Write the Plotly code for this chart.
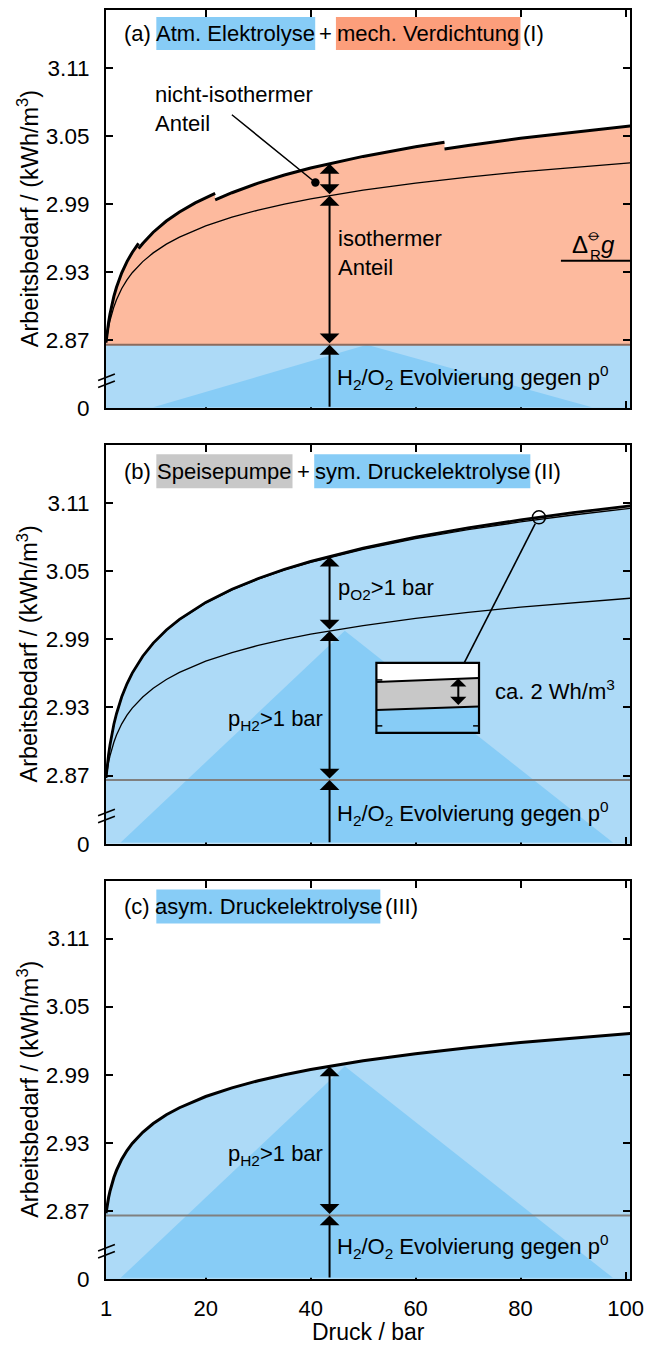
import numpy as np
import plotly.graph_objects as go

# ------------------------------------------------------------------ data
# pressure grid (bar) and specific work demand (kWh/m^3)
P = [1, 1.1, 1.25, 1.5, 1.75, 2, 2.5, 3, 4, 5, 6, 8, 10, 12.5, 15, 20, 25, 30,
     35, 40, 50, 60, 70, 80, 90, 101]
# isothermal curve (H2 only)  -> panels (a), (b) thin line, (c) thick line
W_ISO = [2.8680, 2.8713, 2.8757, 2.8819, 2.8872, 2.8918, 2.8994, 2.9057, 2.9156,
         2.9232, 2.9295, 2.9393, 2.9470, 2.9547, 2.9609, 2.9708, 2.9784, 2.9847,
         2.9900, 2.9946, 3.0022, 3.0085, 3.0138, 3.0184, 3.0224, 3.0263]
# symmetric pressure electrolysis (H2 + O2 pressurised)
W_SYM = [2.8680, 2.8729, 2.8795, 2.8889, 2.8968, 2.9037, 2.9152, 2.9245, 2.9393,
         2.9508, 2.9602, 2.9750, 2.9865, 2.9980, 3.0074, 3.0222, 3.0337, 3.0430,
         3.0510, 3.0578, 3.0693, 3.0787, 3.0867, 3.0935, 3.0996, 3.1055]
# symmetric pressure electrolysis + feed pump
W_SYM_PUMP = [2.8680, 2.8729, 2.8795, 2.8889, 2.8968, 2.9037, 2.9152, 2.9245, 2.9394,
              2.9509, 2.9603, 2.9752, 2.9867, 2.9983, 3.0077, 3.0226, 3.0342, 3.0436,
              3.0518, 3.0587, 3.0704, 3.0800, 3.0882, 3.0953, 3.1016, 3.1077]
# mechanical multi-stage compression (non-isothermal), one list per stage
P_STAGE1 = [1, 1.1, 1.25, 1.5, 1.75, 2, 2.5, 3, 4, 5, 6, 7.2]
W_STAGE1 = [2.8680, 2.8723, 2.8779, 2.8860, 2.8928, 2.8987, 2.9086, 2.9167, 2.9295,
            2.9393, 2.9474, 2.9554]
P_STAGE2 = [7.2, 8, 10, 12.5, 15, 18, 21.8]
W_STAGE2 = [2.9507, 2.9553, 2.9652, 2.9751, 2.9830, 2.9911, 2.9994]
P_STAGE3 = [21.8, 25, 30, 35, 40, 50, 60, 65.5]
W_STAGE3 = [2.9937, 3.0000, 3.0085, 3.0156, 3.0218, 3.0320, 3.0405, 3.0445]
P_STAGE4 = [65.5, 70, 80, 90, 101]
W_STAGE4 = [3.0385, 3.0417, 3.0480, 3.0535, 3.0589]

W_ATM = 2.866        # H2/O2 evolution against p0
W_DRG0 = 2.94        # Delta_R g0 mark
P_MARK = 43.6        # pressure of the explanatory arrows
P_NONISO_DOT = 40.9  # dot for "nicht-isothermer Anteil"
W_NONISO_DOT = 3.009
P_ZOOM = 83.5        # circle marking the zoomed inset

X_TICKS = [1, 20, 40, 60, 80, 100]
Y_TICKVALS = [2.81, 2.87, 2.93, 2.99, 3.05, 3.11]
Y_TICKTEXT = ["0", "2.87", "2.93", "2.99", "3.05", "3.11"]
X_RANGE = [1, 100.85]
Y_RANGE = [2.81, 3.161]

# ------------------------------------------------------------------ layout helpers
W, H = 652, 1349
ML, MR, MT, MB = 106, 15, 8, 70
PW, PH = W - ML - MR, H - MT - MB
FONT = "Liberation Sans, Arial, Helvetica, sans-serif"

LB = "#ADDAF7"
DB = "#87CCF6"
OR_FILL = "#FDBA9E"
OR_BOX = "#FC9E7B"
GR_BOX = "#C8C8C8"


def px(x):
    return (x - ML) / PW


def py(y):
    return (H - MB - y) / PH


PANELS = [(8, 407), (444, 843), (880, 1279)]

fig = go.Figure()

# ------------------------------------------------------------------ panel (a)
fig.add_trace(go.Scatter(x=[P[0], P[-1]], y=[W_ATM, W_ATM], fill="tozeroy",
                         fillcolor=LB, mode="none", xaxis="x", yaxis="y",
                         hoverinfo="skip"))
na_p = P_STAGE1 + P_STAGE2 + P_STAGE3 + P_STAGE4
na_w = W_STAGE1 + W_STAGE2 + W_STAGE3 + W_STAGE4
fig.add_trace(go.Scatter(x=na_p + [na_p[-1], na_p[0]], y=na_w + [W_ATM, W_ATM],
                         fill="toself", fillcolor=OR_FILL, mode="none",
                         xaxis="x", yaxis="y", hoverinfo="skip"))
fig.add_trace(go.Scatter(x=P, y=W_ISO, mode="lines",
                         line=dict(color="black", width=1.3), xaxis="x", yaxis="y"))
for ps, ws in [(P_STAGE1, W_STAGE1), (P_STAGE2, W_STAGE2),
               (P_STAGE3, W_STAGE3), (P_STAGE4, W_STAGE4)]:
    fig.add_trace(go.Scatter(x=ps, y=ws, mode="lines",
                             line=dict(color="black", width=3), xaxis="x", yaxis="y"))

# ------------------------------------------------------------------ panel (b)
fig.add_trace(go.Scatter(x=P, y=W_SYM, fill="tozeroy", fillcolor=LB, mode="none",
                         xaxis="x2", yaxis="y2", hoverinfo="skip"))
fig.add_trace(go.Scatter(x=P, y=W_SYM_PUMP, fill="tonexty", fillcolor=GR_BOX,
                         mode="none", xaxis="x2", yaxis="y2", hoverinfo="skip"))
fig.add_trace(go.Scatter(x=P, y=W_ISO, mode="lines",
                         line=dict(color="black", width=1.3), xaxis="x2", yaxis="y2"))
fig.add_trace(go.Scatter(x=P, y=W_SYM, mode="lines",
                         line=dict(color="black", width=1.3), xaxis="x2", yaxis="y2"))
fig.add_trace(go.Scatter(x=P, y=W_SYM_PUMP, mode="lines",
                         line=dict(color="black", width=2.8), xaxis="x2", yaxis="y2"))

# ------------------------------------------------------------------ panel (c)
fig.add_trace(go.Scatter(x=P, y=W_ISO, fill="tozeroy", fillcolor=LB, mode="none",
                         xaxis="x3", yaxis="y3", hoverinfo="skip"))
fig.add_trace(go.Scatter(x=P, y=W_ISO, mode="lines",
                         line=dict(color="black", width=3), xaxis="x3", yaxis="y3"))

# ------------------------------------------------------------------ axes
def xaxis(anchor, labels):
    return dict(range=X_RANGE, domain=[0, 1], anchor=anchor, tickvals=X_TICKS,
                ticktext=[str(v) for v in X_TICKS], ticks="inside", ticklen=7,
                tickwidth=2, tickcolor="black", showline=True, linewidth=2,
                linecolor="black", mirror="ticks", showgrid=False, zeroline=False,
                showticklabels=labels, ticklabelstandoff=9,
                tickfont=dict(family=FONT, size=22, color="black"))


def yaxis(anchor, top, bottom):
    return dict(range=Y_RANGE, domain=[py(bottom), py(top)], anchor=anchor,
                tickvals=Y_TICKVALS, ticktext=Y_TICKTEXT, ticks="inside", ticklen=7,
                tickwidth=2, tickcolor="black", showline=True, linewidth=2,
                linecolor="black", mirror="ticks", showgrid=False, zeroline=False,
                ticklabelstandoff=10,
                tickfont=dict(family=FONT, size=22.5, color="black"))


shapes = []
annotations = []


def text(t, x, y, xanchor="left", size=22, **kw):
    d = dict(text=t, x=px(x), y=py(y), xref="paper", yref="paper", xanchor=xanchor,
             yanchor="middle", showarrow=False,
             font=dict(family=FONT, size=size, color="black"))
    d.update(kw)
    return d


def arrow(xr, yr, x, y, ax, ay, both=True, size=1.65):
    d = dict(x=x, y=y, ax=ax, ay=ay, xref=xr, yref=yr, axref=xr, ayref=yr, text="",
             showarrow=True, arrowhead=1, arrowsize=size, arrowwidth=2,
             arrowcolor="black", standoff=0)
    if both:
        d.update(arrowside="end+start", startarrowhead=1, startarrowsize=size,
                 startstandoff=0)
    return d


def rect(x0, y0, x1, y1, color):
    return dict(type="rect", xref="paper", yref="paper", x0=px(x0), x1=px(x1),
                y0=py(y0), y1=py(y1), fillcolor=color, line=dict(width=0),
                layer="above")


def pline(x0, y0, x1, y1, width=2, color="black"):
    return dict(type="line", xref="paper", yref="paper", x0=px(x0), x1=px(x1),
                y0=py(y0), y1=py(y1), line=dict(color=color, width=width),
                layer="above")


def tri(xr, yr, pl, apex_p, apex_w, pr):
    b = Y_RANGE[0] + 0.001
    return dict(type="path", xref=xr, yref=yr, layer="above", fillcolor=DB,
                line=dict(width=0),
                path=f"M{pl},{b} L{apex_p},{apex_w} L{pr},{b} Z")


iso_mark = float(np.interp(P_MARK, P, W_ISO))
non_mark = float(np.interp(P_MARK, P_STAGE3, W_STAGE3))
sym_mark = float(np.interp(P_MARK, P, W_SYM_PUMP))
iso_apex = float(np.interp(46.5, P, W_ISO)) - 0.002

# decorative darker triangles + baselines
shapes.append(tri("x", "y", 10, 50.7, W_ATM, 93.6))
shapes.append(tri("x2", "y2", 3.8, 46.5, iso_apex, 97.6))
shapes.append(tri("x3", "y3", 3.8, 46.5, iso_apex, 97.6))
for xr, yr, col in [("x", "y", "#8C6B5E"), ("x2", "y2", "#808080"),
                    ("x3", "y3", "#808080")]:
    shapes.append(dict(type="line", xref=xr, yref=yr, x0=X_RANGE[0], x1=X_RANGE[1],
                       y0=W_ATM, y1=W_ATM, line=dict(color=col, width=2),
                       layer="above"))

# axis break marks
for top, bottom in PANELS:
    shapes.append(pline(98, bottom - 28, 115, bottom - 34.5, width=1.6))
    shapes.append(pline(98, bottom - 21, 115, bottom - 27.5, width=1.6))

# title highlight boxes
shapes += [rect(157, 15, 318, 48, DB), rect(339, 15, 526, 48, OR_BOX),
           rect(157, 453, 295, 487, GR_BOX), rect(317, 453, 536, 487, DB),
           rect(157, 889, 384, 923, DB)]

# Delta_R g0 line
shapes.append(dict(type="line", xref="paper", yref="y", x0=px(567), x1=1,
                   y0=W_DRG0, y1=W_DRG0, line=dict(color="black", width=2),
                   layer="above"))

# inset in panel (b)
shapes += [
    rect(380, 662, 484, 732, DB),
    dict(type="path", xref="paper", yref="paper", layer="above", fillcolor="white",
         line=dict(width=0),
         path=f"M{px(380)},{py(662)} L{px(484)},{py(662)} L{px(484)},{py(677)} "
              f"L{px(380)},{py(681)} Z"),
    dict(type="path", xref="paper", yref="paper", layer="above", fillcolor=GR_BOX,
         line=dict(width=0),
         path=f"M{px(380)},{py(681)} L{px(484)},{py(677)} L{px(484)},{py(705.5)} "
              f"L{px(380)},{py(709)} Z"),
    pline(380, 681, 484, 677),
    pline(380, 709, 484, 705.5),
    pline(380, 679, 386, 679, width=1.5),
    pline(380, 725, 386, 725, width=1.5),
    pline(478, 725, 484, 725, width=1.5),
    dict(type="rect", xref="paper", yref="paper", x0=px(380), x1=px(484),
         y0=py(662), y1=py(732), line=dict(color="black", width=2.2),
         fillcolor="rgba(0,0,0,0)", layer="above"),
    pline(541, 522.5, 469, 662, width=1.6),
]
zoom_w = float(np.interp(P_ZOOM, P, W_SYM_PUMP))
shapes.append(dict(type="circle", xref="x2", yref="y2", xsizemode="pixel",
                   ysizemode="pixel", xanchor=P_ZOOM, yanchor=zoom_w,
                   x0=-6.5, x1=6.5, y0=-6.5, y1=6.5,
                   line=dict(color="black", width=1.5),
                   fillcolor="rgba(0,0,0,0)", layer="above"))

# arrows
annotations += [
    arrow("x", "y", P_MARK, non_mark, P_MARK, iso_mark),
    arrow("x", "y", P_MARK, iso_mark, P_MARK, W_ATM),
    arrow("x", "y", P_MARK, W_ATM, P_MARK, Y_RANGE[0], both=False),
    arrow("x2", "y2", P_MARK, sym_mark, P_MARK, iso_mark),
    arrow("x2", "y2", P_MARK, iso_mark, P_MARK, W_ATM),
    arrow("x2", "y2", P_MARK, W_ATM, P_MARK, Y_RANGE[0], both=False),
    arrow("x3", "y3", P_MARK, iso_mark, P_MARK, W_ATM),
    arrow("x3", "y3", P_MARK, W_ATM, P_MARK, Y_RANGE[0], both=False),
    dict(x=px(463), y=py(677.5), ax=0, ay=28, xref="paper",
         yref="paper", axref="pixel", ayref="pixel", text="", showarrow=True,
         arrowhead=1, arrowsize=1.35, arrowwidth=2, arrowcolor="black",
         arrowside="end+start", startarrowhead=1, startarrowsize=1.35,
         standoff=0, startstandoff=0),
    dict(x=P_NONISO_DOT, y=W_NONISO_DOT, xref="x", yref="y", ax=-85, ay=-69,
         text="", showarrow=True, arrowhead=6, arrowsize=1.4, arrowwidth=1.5,
         arrowcolor="black", standoff=0),
]

# titles of the panels
annotations += [
    text("(a)", 137.5, 32, "center"), text("Atm. Elektrolyse", 237.5, 32, "center"),
    text("+", 328.5, 32, "center"), text("mech. Verdichtung", 432.5, 32, "center"),
    text("(I)", 539, 32, "center"),
    text("(b)", 137.5, 470, "center"), text("Speisepumpe", 226, 470, "center"),
    text("+", 306, 470, "center"), text("sym. Druckelektrolyse", 426.5, 470, "center"),
    text("(II)", 553.5, 470, "center"),
    text("(c)", 137.5, 906, "center"),
    text("asym. Druckelektrolyse", 270.5, 906, "center"),
    text("(III)", 405.5, 906, "center"),
]

h2o2 = "H<sub>2</sub>/O<sub>2</sub> Evolvierung gegen p<sup>0</sup>"
annotations += [
    text("nicht-isothermer<br>Anteil", 154, 107, align="left"),
    text("isothermer<br>Anteil", 339, 251, align="left"),
    text(h2o2, 338, 376),
    text("\u0394", 586, 243, "center", size=24),
    text("R", 602, 253, "center", size=15),
    text("\u29b5", 601, 232, "center", size=19),
    text("<i>g</i>", 615, 243, "center", size=24),
    text("p<sub>O2</sub>&gt;1 bar", 339, 588),
    text("p<sub>H2</sub>&gt;1 bar", 328, 719, "right"),
    text(h2o2, 338, 813),
    text("ca. 2 Wh/m<sup>3</sup>", 498, 689),
    text("p<sub>H2</sub>&gt;1 bar", 328, 1155, "right"),
    text(h2o2, 338, 1246),
    text("Druck / bar", 371.5, 1332, "center", size=23),
]
for top, bottom in PANELS:
    annotations.append(text("Arbeitsbedarf / (kWh/m<sup>3</sup>)", 27,
                            (top + bottom) / 2 + 10, "center", size=23.5,
                            textangle=-90))

fig.update_layout(
    width=W, height=H, margin=dict(l=ML, r=MR, t=MT, b=MB, pad=0),
    paper_bgcolor="white", plot_bgcolor="white", showlegend=False,
    font=dict(family=FONT, size=22, color="black"),
    xaxis=xaxis("y", False), yaxis=yaxis("x", *PANELS[0]),
    xaxis2=xaxis("y2", False), yaxis2=yaxis("x2", *PANELS[1]),
    xaxis3=xaxis("y3", True), yaxis3=yaxis("x3", *PANELS[2]),
    shapes=shapes, annotations=annotations,
)

fig.write_html("out.html")
